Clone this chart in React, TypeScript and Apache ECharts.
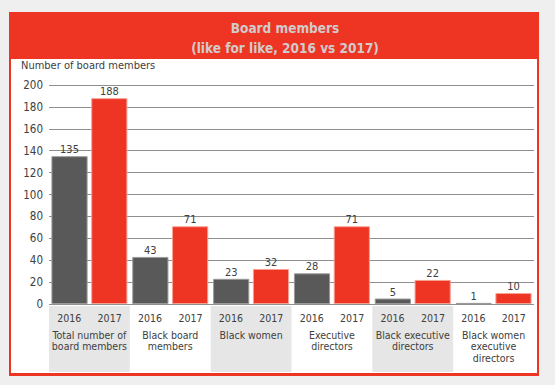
import React, { useEffect, useRef } from "react";
import * as echarts from "echarts";

const groups = [
  "Total number of\nboard members",
  "Black board\nmembers",
  "Black women",
  "Executive\ndirectors",
  "Black executive\ndirectors",
  "Black women\nexecutive\ndirectors",
];
const years = ["2016", "2017"];
const values2016 = [135, 43, 23, 28, 5, 1];
const values2017 = [188, 71, 32, 71, 22, 10];
const yTicks = { min: 0, max: 200, interval: 20 };

const FONT = "'DejaVu Sans Condensed', 'Liberation Sans Narrow', sans-serif";
const RED = "#ee3524";
const GRAY = "#595959";
const TEXT = "#404040";

export default function App() {
  const ref = useRef<HTMLDivElement>(null);
  useEffect(() => {
    if (!ref.current) return;
    const chart = echarts.init(ref.current, null, { renderer: "svg" });
    const yearLabels: string[] = [];
    groups.forEach(() => years.forEach((y) => yearLabels.push(y)));

    const baseGraphics = [
      { type: "rect", z: -20, shape: { x: 9, y: 12, width: 530, height: 364 }, style: { fill: RED } },
      { type: "rect", z: -19, shape: { x: 11, y: 59, width: 526, height: 314 }, style: { fill: "#ffffff" } },
    ];

    chart.setOption({
      animation: false,
      backgroundColor: "#efefef",
      textStyle: { fontFamily: FONT },
      title: [
        {
          text: "Board members\n(like for like, 2016 vs 2017)",
          left: 280,
          textAlign: "center",
          top: 13,
          textStyle: { fontFamily: FONT, fontSize: 13.5, fontWeight: "bold", color: "#d2cbcb", lineHeight: 20 },
        },
        {
          text: "Number of board members",
          left: 16,
          top: 55,
          textStyle: { fontFamily: FONT, fontSize: 11, fontWeight: "normal", color: TEXT },
        },
      ],
      grid: { left: 49, right: 21, top: 85, bottom: 81, containLabel: false },
      xAxis: [
        {
          type: "category",
          data: groups,
          position: "bottom",
          offset: 0,
          axisLine: { show: false },
          axisTick: { show: false },
          axisLabel: { margin: 25, fontFamily: FONT, fontSize: 10.5, lineHeight: 11.5, color: TEXT, interval: 0 },
        },
        {
          type: "category",
          data: yearLabels,
          position: "bottom",
          offset: 0,
          axisLine: { show: false },
          axisTick: { show: false },
          axisLabel: { margin: 8, fontFamily: FONT, fontSize: 10.5, color: TEXT, interval: 0 },
        },
      ],
      yAxis: {
        type: "value",
        min: yTicks.min,
        max: yTicks.max,
        interval: yTicks.interval,
        axisLine: { show: false },
        axisTick: { show: false },
        axisLabel: { margin: 6, fontFamily: FONT, fontSize: 11.5, color: TEXT },
        splitLine: { lineStyle: { color: "#8f8f8f", width: 1 } },
      },
      series: [
        {
          type: "bar",
          name: years[0],
          data: values2016,
          barCategoryGap: "6%",
          barGap: "10%",
          itemStyle: { color: GRAY, borderColor: "#9a9a9a", borderWidth: 1 },
          label: { show: true, position: "top", distance: 1, fontFamily: FONT, fontSize: 11, color: TEXT },
        },
        {
          type: "bar",
          name: years[1],
          data: values2017,
          barCategoryGap: "6%",
          barGap: "10%",
          itemStyle: { color: RED, borderColor: "#f6a095", borderWidth: 1 },
          label: { show: true, position: "top", distance: 1, fontFamily: FONT, fontSize: 11, color: TEXT },
        },
      ],
      graphic: baseGraphics,
    });

    const c0 = chart.convertToPixel({ xAxisIndex: 0 }, 0) as number;
    const c1 = chart.convertToPixel({ xAxisIndex: 0 }, 1) as number;
    const half = (c1 - c0) / 2;
    const y0 = chart.convertToPixel({ yAxisIndex: 0 }, 0) as number;
    const bands = groups
      .map((_, i) => i)
      .filter((i) => i % 2 === 0)
      .map((i) => {
        const c = chart.convertToPixel({ xAxisIndex: 0 }, i) as number;
        return {
          type: "rect",
          z: -18,
          shape: { x: c - half, y: y0 + 2, width: half * 2, height: 372 - (y0 + 2) },
          style: { fill: "#e6e6e6" },
        };
      });
    chart.setOption({ graphic: [...baseGraphics, ...bands] }, { replaceMerge: ["graphic"] });

    return () => chart.dispose();
  }, []);
  return <div ref={ref} style={{ position: "fixed", left: 0, top: 0, width: 555, height: 385 }} />;
}
